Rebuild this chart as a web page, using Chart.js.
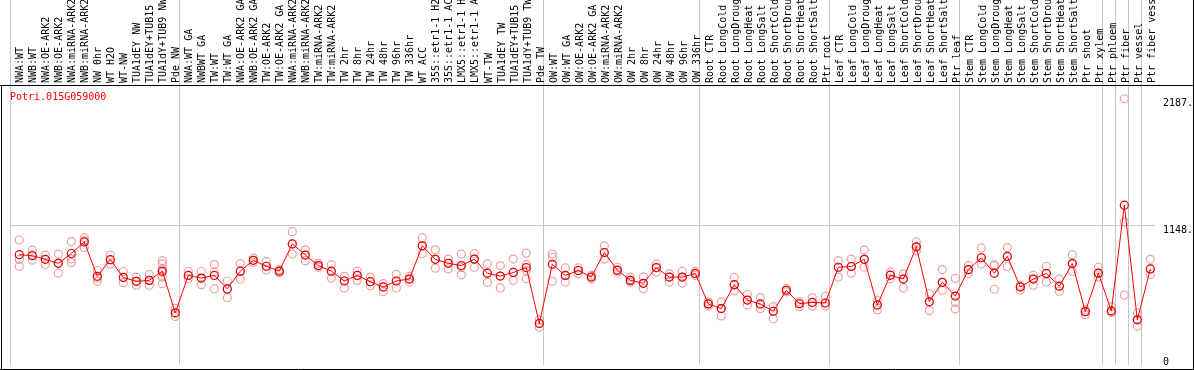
<!DOCTYPE html>
<html>
<head>
<meta charset="utf-8">
<script src="https://cdn.jsdelivr.net/npm/chart.js@4.4.1/dist/chart.umd.min.js"></script>
<style>
  body { margin: 0; background: #fff; overflow: hidden; }
  canvas { display: block; }
</style>
</head>
<body>
<canvas id="myChart" width="1194" height="370"></canvas>
<script>
// dados do grafico
var geneName = 'Potri.015G059000';

var sampleLabels = [
  'NWA:WT', 'NWB:WT', 'NWA:OE-ARK2', 'NWB:OE-ARK2', 'NWA:miRNA-ARK2', 'NWB:miRNA-ARK2', 'NW 0hr', 'WT H2O', 'WT-NW',
  'TUA1dEY NW', 'TUA1dEY+TUB15 NW', 'TUA1dY+TUB9 NW', 'Pde NW',
  'NWA:WT GA', 'NWBWT GA', 'TW:WT', 'TW:WT GA', 'NWA:OE-ARK2 GA', 'NWB:OE-ARK2 GA', 'TW:OE-ARK2', 'TW:OE-ARK2 GA',
  'NWA:miRNA-ARK2 GA', 'NWB:miRNA-ARK2 GA', 'TW:miRNA-ARK2', 'TW:miRNA-ARK2 GA', 'TW 2hr', 'TW 8hr', 'TW 24hr', 'TW 48hr',
  'TW 96hr', 'TW 336hr', 'WT ACC', '35S::etr1-1 H2O', '35S::etr1-1 ACC', 'LMX5::etr1-1 H2O', 'LMX5::etr1-1 ACC', 'WT-TW',
  'TUA1dEY TW', 'TUA1dEY+TUB15 TW', 'TUA1dY+TUB9 TW', 'Pde TW',
  'OW:WT', 'OW:WT GA', 'OW:OE-ARK2', 'OW:OE-ARK2 GA', 'OW:miRNA-ARK2', 'OW:miRNA-ARK2 GA', 'OW 2hr', 'OW 8hr', 'OW 24hr',
  'OW 48hr', 'OW 96hr', 'OW 336hr',
  'Root CTR', 'Root LongCold', 'Root LongDrought', 'Root LongHeat', 'Root LongSalt', 'Root ShortCold', 'Root ShortDrought',
  'Root ShortHeat', 'Root ShortSalt', 'Ptr root',
  'Leaf CTR', 'Leaf LongCold', 'Leaf LongDrought', 'Leaf LongHeat', 'Leaf LongSalt', 'Leaf ShortCold', 'Leaf ShortDrought',
  'Leaf ShortHeat', 'Leaf ShortSalt', 'Ptr leaf',
  'Stem CTR', 'Stem LongCold', 'Stem LongDrought', 'Stem LongHeat', 'Stem LongSalt', 'Stem ShortCold', 'Stem ShortDrought',
  'Stem ShortHeat', 'Stem ShortSalt', 'Ptr shoot', 'Ptr xylem',
  'Ptr phloem', 'Ptr fiber', 'Ptr vessel', 'Ptr fiber vessel'
];

// indices onde comeca cada grupo (linhas cinzas verticais)
var groupStarts = [0, 13, 41, 53, 63, 73, 84, 85, 86, 87, 88];

var meanValues = [
  905, 897, 867, 834, 915, 1010, 727, 864, 718, 686, 694, 770, 427,
  735, 713, 735, 624, 770, 859, 810, 770, 994, 902, 816, 770, 689, 735, 683, 640, 689, 705, 978, 867, 834, 816, 869, 753, 729, 759, 799, 340,
  826, 735, 775, 721, 923, 778, 694, 670, 799, 721, 721, 751,
  500, 462, 659, 532, 500, 440, 613, 502, 513, 508,
  802, 808, 867, 492, 737, 705, 970, 518, 678, 565,
  783, 880, 753, 891, 640, 705, 751, 646, 832, 437, 753,
  443, 1312, 370, 788
];

var replicateValues = [
  [1026, 867, 808], [942, 902, 861], [902, 867, 824], [910, 834, 753], [1013, 869, 840], [1045, 1021, 964],
  [775, 713, 686], [902, 864, 829], [767, 718, 675], [721, 686, 654], [743, 694, 654], [856, 829, 788, 761, 721, 667],
  [464, 427, 397],
  [767, 735, 707], [767, 713, 659], [824, 761, 624], [689, 624, 551], [832, 770, 705], [877, 859, 840],
  [848, 810, 780], [783, 770, 756], [1094, 994, 910], [945, 902, 856], [834, 816, 802], [821, 770, 713],
  [727, 689, 632], [770, 735, 694], [721, 683, 650], [667, 640, 602], [743, 689, 632], [727, 705, 680],
  [1045, 978, 915], [945, 867, 794], [869, 834, 788], [910, 800, 740], [915, 869, 802], [829, 753, 678],
  [816, 729, 632], [869, 759, 694], [918, 824, 775, 707], [370, 340, 308],
  [910, 883, 686], [796, 735, 680], [796, 775, 748], [737, 721, 705], [978, 923, 869], [802, 778, 761],
  [721, 694, 680], [721, 670, 626], [829, 799, 761], [748, 721, 680], [770, 721, 672], [770, 751, 735],
  [518, 500, 483], [518, 462, 402], [718, 659, 608], [578, 532, 492], [553, 500, 462], [478, 440, 378],
  [626, 613, 599], [518, 502, 478], [553, 513, 483], [564, 508, 483],
  [856, 802, 721], [869, 808, 753], [945, 867, 802], [527, 492, 451], [761, 737, 707], [748, 705, 632],
  [1010, 970, 937], [586, 518, 446], [783, 678, 613], [710, 513, 459],
  [816, 783, 748], [961, 880, 829], [821, 816, 621], [964, 891, 808], [654, 640, 613], [735, 705, 654],
  [810, 751, 680], [705, 646, 605], [905, 832, 767], [451, 437, 411], [802, 753, 721],
  [478, 443, 429], [2187, 1175, 573], [424, 370, 316], [867, 788, 743]
];

var yTickValues = [0, 1148, 2187];
var yTickLabels = ['0', '1148.', '2187.'];

var fonte = 'DejaVu Sans Mono';

// montando os pontos
var pontosMedia = [];
for (var i = 0; i < meanValues.length; i++) {
  pontosMedia.push({ x: i, y: meanValues[i] });
}
var pontosReplicas = [];
for (var i = 0; i < replicateValues.length; i++) {
  for (var j = 0; j < replicateValues[i].length; j++) {
    pontosReplicas.push({ x: i, y: replicateValues[i][j] });
  }
}

// moldura, titulo e rotulos do eixo y
var extras = {
  id: 'extras',
  afterDraw: function (chart) {
    var ctx = chart.ctx;
    var W = chart.width, H = chart.height;
    var top = chart.chartArea.top;
    ctx.save();
    ctx.strokeStyle = '#000';
    ctx.lineWidth = 1;
    ctx.beginPath();
    ctx.moveTo(0, top + 0.5); ctx.lineTo(W, top + 0.5);
    ctx.moveTo(1.5, top); ctx.lineTo(1.5, H);
    ctx.moveTo(W - 0.5, 0); ctx.lineTo(W - 0.5, H);
    ctx.moveTo(0, H - 0.5); ctx.lineTo(W, H - 0.5);
    ctx.stroke();

    ctx.font = '10px "' + fonte + '"';
    ctx.fillStyle = '#ff0000';
    ctx.textBaseline = 'middle';
    ctx.textAlign = 'left';
    ctx.fillText(geneName, 10, top + 12);

    var y = chart.scales.y;
    ctx.fillStyle = '#000';
    for (var k = 0; k < yTickValues.length; k++) {
      var py = y.getPixelForValue(yTickValues[k]) + 5;
      if (py > H - 8) py = H - 8;
      ctx.fillText(yTickLabels[k], chart.chartArea.right + 8, py);
    }
    ctx.restore();
  }
};

var Grafico = new Chart(document.getElementById('myChart'), {
  type: 'line',
  data: {
    labels: sampleLabels,
    datasets: [{
      label: 'media',
      data: pontosMedia,
      xAxisID: 'xd',
      borderColor: '#ff0000',
      borderWidth: 1,
      pointRadius: 4,
      pointBorderWidth: 1.2,
      pointBorderColor: '#e00000',
      pointBackgroundColor: 'rgba(0,0,0,0)',
      tension: 0
    },
    {
      label: 'replicas',
      data: pontosReplicas,
      xAxisID: 'xd',
      showLine: false,
      pointRadius: 4,
      pointBorderWidth: 1.2,
      pointBorderColor: 'rgba(232,130,130,0.75)',
      pointBackgroundColor: 'rgba(0,0,0,0)'
    }]
  },
  options: {
    responsive: false,
    animation: false,
    devicePixelRatio: 1,
    layout: { padding: { left: 10, right: 0, top: 0, bottom: 1 } },
    plugins: { legend: { display: false }, tooltip: { enabled: false } },
    scales: {
      x: {
        type: 'category',
        position: 'top',
        offset: true,
        grid: {
          offset: true,
          tickLength: 85,
          lineWidth: 1,
          color: function (c) { return groupStarts.indexOf(c.index) >= 0 ? '#c8c8c8' : 'rgba(0,0,0,0)'; }
        },
        border: { display: false },
        ticks: {
          autoSkip: false,
          minRotation: 90,
          maxRotation: 90,
          padding: -83,
          labelOffset: 16,
          color: '#000',
          font: { family: fonte, size: 10 }
        },
        afterFit: function (s) { s.height = 85; }
      },
      xd: {
        type: 'linear',
        display: false,
        min: -0.715,
        max: 87.36
      },
      y: {
        position: 'right',
        min: 0,
        max: 2300,
        afterBuildTicks: function (s) { s.ticks = [{ value: 1148 }]; },
        afterFit: function (s) { s.width = 39; },
        ticks: { display: false },
        grid: { color: '#c8c8c8', drawTicks: false },
        border: { display: false }
      }
    }
  },
  plugins: [extras]
});
</script>
</body>
</html>
